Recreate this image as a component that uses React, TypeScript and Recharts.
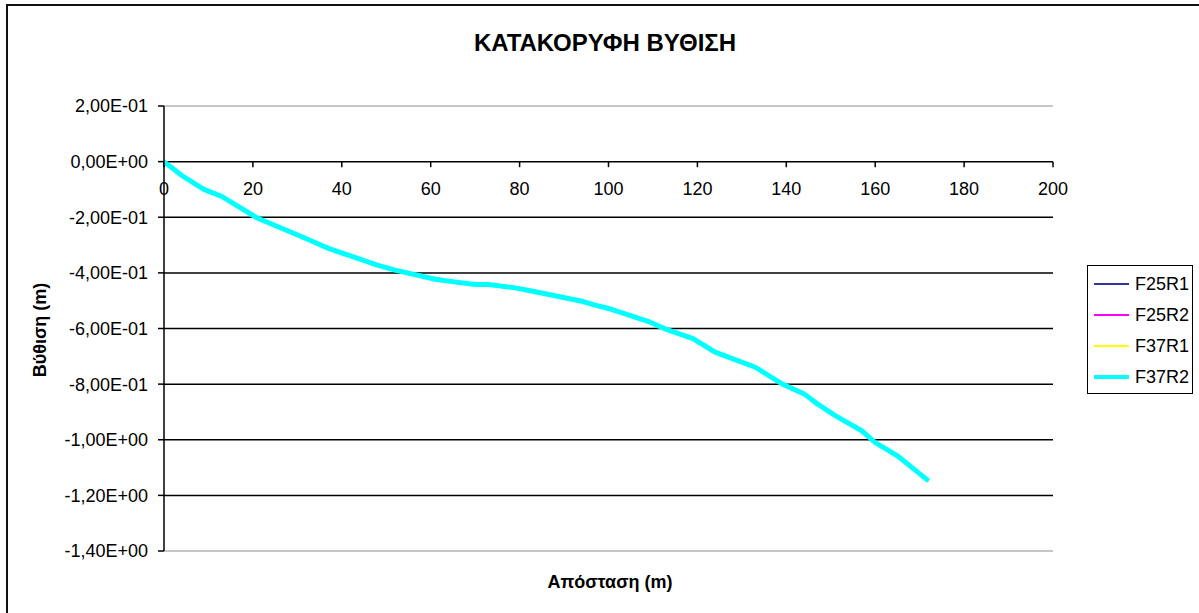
import React from "react";
import { LineChart, Line, XAxis, YAxis, ReferenceLine, ReferenceDot } from "recharts";

// apostasi (m) and vythisi (m)
const distances = [0, 4, 9, 13, 21, 31, 37, 48, 52, 61, 67, 70, 73, 79, 83, 94, 97, 100, 109, 113, 119, 124, 133, 139, 144, 147, 151, 157, 160, 165, 172];
const f37r2 = [0, -0.05, -0.1, -0.125, -0.203, -0.27, -0.312, -0.372, -0.39, -0.423, -0.436, -0.442, -0.442, -0.454, -0.466, -0.502, -0.516, -0.528, -0.575, -0.603, -0.636, -0.685, -0.739, -0.799, -0.835, -0.871, -0.913, -0.968, -1.01, -1.058, -1.148];
// the other three runs sit under the F37R2 line
const f25r1 = f37r2;
const f25r2 = f37r2;
const f37r1 = f37r2;

const xTicks = [0, 20, 40, 60, 80, 100, 120, 140, 160, 180, 200];
const yTicks = [0.2, 0, -0.2, -0.4, -0.6, -0.8, -1.0, -1.2, -1.4];
const gridLines = [-0.2, -0.4, -0.6, -0.8, -1.0, -1.2];

const series = [
  { key: "F25R1", values: f25r1, color: "#333399", width: 2 },
  { key: "F25R2", values: f25r2, color: "#ff00ff", width: 2 },
  { key: "F37R1", values: f37r1, color: "#ffff00", width: 2 },
  { key: "F37R2", values: f37r2, color: "#00ffff", width: 5 },
];

const data = distances.map((d, i) => {
  const row: Record<string, number> = { x: d };
  series.forEach((s) => {
    row[s.key] = s.values[i];
  });
  return row;
});

const FONT = "'Liberation Sans', Arial, sans-serif";

// 2,00E-01 style
function sci(v: number) {
  const [m, e] = Math.abs(v) < 1e-9 ? ["0.00", "0"] : v.toExponential(2).split("e");
  const n = parseInt(e, 10);
  const exp = (n < 0 ? "-" : "+") + String(Math.abs(n)).padStart(2, "0");
  return m.replace(".", ",") + "E" + exp;
}

export default function App() {
  return (
    <div
      style={{
        position: "absolute",
        left: 0,
        top: 0,
        width: 1199,
        height: 613,
        overflow: "hidden",
        background: "#fff",
        fontFamily: FONT,
      }}
    >
      <div
        style={{
          position: "absolute",
          left: 6,
          top: 4,
          width: 1210,
          height: 630,
          border: "2px solid #111",
        }}
      />
      <div
        style={{
          position: "absolute",
          left: 0,
          width: 1210,
          top: 29,
          textAlign: "center",
          fontWeight: "bold",
          fontSize: 24,
          color: "#000",
        }}
      >
        ΚΑΤΑΚΟΡΥΦΗ ΒΥΘΙΣΗ
      </div>

      <div style={{ position: "absolute", left: 0, top: 0 }}>
        <LineChart width={1199} height={613} data={data} margin={{ top: 106, right: 146, bottom: 62, left: 74 }}>
          <XAxis dataKey="x" type="number" domain={[0, 200]} ticks={xTicks} allowDataOverflow hide />
          <YAxis
            type="number"
            domain={[-1.4, 0.2]}
            ticks={yTicks}
            interval={0}
            allowDataOverflow
            width={90}
            tickFormatter={sci}
            axisLine={{ stroke: "#000", strokeWidth: 1.5 }}
            tickLine={{ stroke: "#000", strokeWidth: 1.5 }}
            tickSize={6}
            tickMargin={10}
            tick={{ fontSize: 18, fill: "#000", fontFamily: FONT }}
          />
          <ReferenceLine y={0.2} stroke="#b4b4b4" strokeWidth={1.5} />
          <ReferenceLine y={-1.4} stroke="#b4b4b4" strokeWidth={1.5} />
          {gridLines.map((g) => (
            <ReferenceLine key={g} y={g} stroke="#000" strokeWidth={1.5} />
          ))}
          <ReferenceLine y={0} stroke="#000" strokeWidth={1.5} />
          {xTicks.map((t) => (
            <ReferenceLine
              key={"t" + t}
              segment={[
                { x: t, y: 0 },
                { x: t, y: -0.02 },
              ]}
              stroke="#000"
              strokeWidth={1.5}
            />
          ))}
          {xTicks.map((t) => (
            <ReferenceDot
              key={"l" + t}
              x={t}
              y={0}
              r={0}
              fill="none"
              stroke="none"
              label={{ value: String(t), position: "bottom", offset: 21, fill: "#000", fontSize: 18, fontFamily: FONT }}
            />
          ))}
          {series.map((s) => (
            <Line
              key={s.key}
              type="linear"
              dataKey={s.key}
              stroke={s.color}
              strokeWidth={s.width}
              dot={false}
              isAnimationActive={false}
            />
          ))}
        </LineChart>
      </div>

      <div
        style={{
          position: "absolute",
          left: 40,
          top: 330,
          transform: "translate(-50%, -50%) rotate(-90deg)",
          fontWeight: "bold",
          fontSize: 18,
          whiteSpace: "nowrap",
        }}
      >
        Βύθιση (m)
      </div>
      <div
        style={{
          position: "absolute",
          left: 610,
          top: 582,
          transform: "translate(-50%, -50%)",
          fontWeight: "bold",
          fontSize: 18,
          whiteSpace: "nowrap",
        }}
      >
        Απόσταση (m)
      </div>

      <div
        style={{
          position: "absolute",
          left: 1087,
          top: 265,
          width: 106,
          height: 129,
          border: "1px solid #000",
          boxSizing: "border-box",
        }}
      >
        {series.map((s, i) => (
          <div
            key={s.key}
            style={{
              position: "absolute",
              left: 6,
              top: 6 + i * 31,
              height: 24,
              display: "flex",
              alignItems: "center",
              fontSize: 18,
            }}
          >
            <span
              style={{
                display: "inline-block",
                width: 35,
                height: s.width === 5 ? 4 : 2,
                background: s.color,
                marginRight: 6,
              }}
            />
            {s.key}
          </div>
        ))}
      </div>
    </div>
  );
}
